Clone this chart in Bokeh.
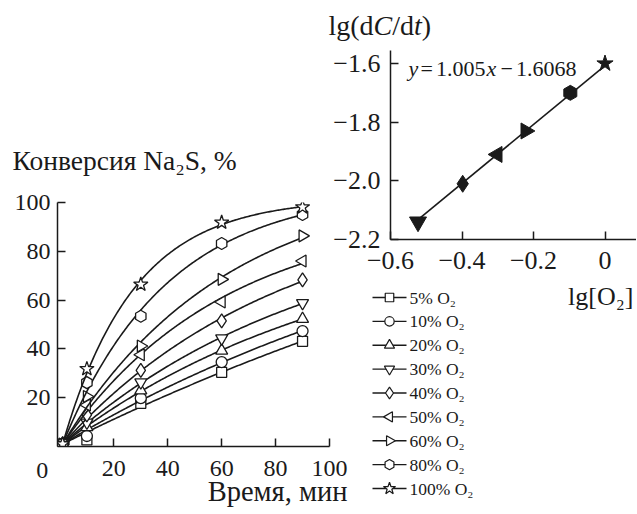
import numpy as np
from bokeh.plotting import figure
from bokeh.layouts import column
from bokeh.models import (FixedTicker, Label, CustomJSTickFormatter, Range1d, GridBox)
from bokeh.embed import file_html
from bokeh.resources import INLINE

FONT = "Liberation Serif"
INK = "#1a1a1a"

# ---------------- main chart data ----------------
time_min = [1, 10, 30, 60, 90]
series_labels = ["5% O₂", "10% O₂", "20% O₂", "30% O₂", "40% O₂",
                 "50% O₂", "60% O₂", "80% O₂", "100% O₂"]
conv_5 = [1, 2.7, 17.7, 30.4, 43.1]
conv_10 = [1, 4.3, 19.8, 34.6, 47.3]
conv_20 = [1, 7.9, 23.0, 39.3, 52.3]
conv_30 = [1, 9.8, 26.3, 44.3, 58.8]
conv_40 = [1, 13.0, 31.2, 51.5, 68.3]
conv_50 = [1, 17.0, 37.6, 59.2, 76.0]
conv_60 = [1, 20.5, 41.2, 68.5, 86.3]
conv_80 = [1, 26.2, 53.4, 83.2, 95.1]
conv_100 = [1, 31.8, 66.4, 91.8, 98.1]
main_x_ticks = [20, 40, 60, 80, 100]
main_y_ticks = [20, 40, 60, 80, 100]

# ---------------- inset data ----------------
lg_o2 = [-0.523, -0.398, -0.301, -0.222, -0.097, 0.0]
lg_rate = [-2.14, -2.01, -1.91, -1.83, -1.70, -1.60]
fit_slope = 1.005
fit_intercept = -1.6068
inset_x_ticks = [-0.6, -0.4, -0.2, 0.0]
inset_y_ticks = [-2.2, -2.0, -1.8, -1.6]

all_series = [conv_5, conv_10, conv_20, conv_30, conv_40, conv_50, conv_60, conv_80, conv_100]
markers = [("square", 0, 10), ("circle", 0, 11), ("triangle", 0, 12), ("inverted_triangle", 0, 12),
           ("diamond", 0, 14), ("triangle", np.pi / 2, 12), ("triangle", -np.pi / 2, 12),
           ("hex", np.pi / 2, 12), ("star", 0, 15)]
inset_markers = [("inverted_triangle", 0, 17), ("diamond", 0, 17), ("triangle", np.pi / 2, 16),
                 ("triangle", -np.pi / 2, 16), ("hex", np.pi / 2, 15), ("star", 0, 17)]


def saturation_trend(t, y):
    """least-squares trend y = y0 + A(1-exp(-k(t-t0))) for the drawn curve"""
    t = np.asarray(t, float)
    y = np.asarray(y, float)
    tt, yy = t - t[0], y - y[0]
    best = None
    for k in np.linspace(0.001, 0.2, 4000):
        f = 1 - np.exp(-k * tt)
        a = f @ yy / (f @ f)
        err = np.sum((a * f - yy) ** 2)
        if best is None or err < best[0]:
            best = (err, a, k)
    grid = np.linspace(t[0], t[-1], 200)
    return grid, y[0] + best[1] * (1 - np.exp(-best[2] * (grid - t[0])))


def style_axes(fig, size):
    for ax in list(fig.xaxis) + list(fig.yaxis):
        ax.major_tick_in = 8
        ax.major_tick_out = 0
        ax.minor_tick_line_color = None
        ax.axis_line_width = 1.5
        ax.axis_line_color = INK
        ax.major_tick_line_width = 1.5
        ax.major_tick_line_color = INK
        ax.major_label_text_font = FONT
        ax.major_label_text_font_size = size
        ax.major_label_text_color = INK
    fig.xgrid.grid_line_color = None
    fig.ygrid.grid_line_color = None


common = dict(output_backend="svg", toolbar_location=None, sizing_mode="fixed",
              background_fill_color=None, border_fill_color=None, outline_line_color=None)

# ---------------- main figure ----------------
p = figure(width=482, height=374, x_range=Range1d(-0.9, 100), y_range=Range1d(0, 100),
           min_border_left=49, min_border_right=161, min_border_top=72, min_border_bottom=58,
           **common)
style_axes(p, "24px")
p.xaxis.ticker = FixedTicker(ticks=main_x_ticks)
p.yaxis.ticker = FixedTicker(ticks=main_y_ticks)
p.xaxis.major_label_standoff = 14
p.yaxis.major_label_standoff = 7

for ys, (mk, ang, sz) in zip(all_series, markers):
    gx, gy = saturation_trend(time_min, ys)
    p.line(gx, gy, line_color=INK, line_width=1.6)
    p.scatter(time_min, ys, marker=mk, angle=ang, size=sz, fill_color="white",
              line_color=INK, line_width=1.3)

# ---------------- inset figure ----------------
y_top = -2.2 + 189 / 293.3
x_end = -0.6 + 246 / 357.5
q = figure(width=336, height=307, x_range=Range1d(-0.6, x_end), y_range=Range1d(-2.2, y_top),
           min_border_left=90, min_border_right=0, min_border_top=42, min_border_bottom=76,
           **common)
style_axes(q, "26px")
q.xaxis.ticker = FixedTicker(ticks=inset_x_ticks)
q.yaxis.ticker = FixedTicker(ticks=inset_y_ticks)
fmt_code = "return Math.abs(tick) < 1e-9 ? '0' : tick.toFixed(1).replace('-', '\u2212');"
q.xaxis.formatter = CustomJSTickFormatter(code=fmt_code)
q.yaxis.formatter = CustomJSTickFormatter(code=fmt_code)
q.xaxis.major_label_standoff = 12
q.yaxis.major_label_standoff = 10

fx = [lg_o2[0], lg_o2[-1]]
q.line(fx, [fit_slope * v + fit_intercept for v in fx], line_color=INK, line_width=1.6)
for xv, yv, (mk, ang, sz) in zip(lg_o2, lg_rate, inset_markers):
    q.scatter([xv], [yv], marker=mk, angle=ang, size=sz, fill_color=INK, line_color=INK)

# ---------------- transparent overlay for free texts and the legend ----------------
# overlay coordinates: x = page pixel, y = 512 - page pixel
PAGE_H = 512
ov = figure(width=628, height=504, x_range=Range1d(8, 636), y_range=Range1d(0, 504),
            x_axis_type=None, y_axis_type=None,
            min_border_left=0, min_border_right=0, min_border_top=0, min_border_bottom=0,
            **common)


def txt(x, y, text, size, align="left", style="normal"):
    ov.add_layout(Label(x=x, y=PAGE_H - y, text=text, text_align=align, text_baseline="middle",
                        text_font=FONT, text_font_size=f"{size}px", text_font_style=style,
                        text_color=INK))


txt(12, 160, "Конверсия Na₂S, %", 27.5)
txt(347, 491, "Время, мин", 28.5, align="right")
txt(41.7, 470, "0", 24, align="center")

ttl = 28
for t, style, em in [("lg(d", "normal", 0.0), ("C", "italic", 1.611), ("/d", "normal", 2.278),
                     ("t", "italic", 3.056), (")", "normal", 3.334)]:
    txt(328 + em * ttl, 25, t, ttl, style=style)

for t, style, x in [("y", "italic", 408), ("=", "normal", 420), ("1.005", "normal", 435.5),
                    ("x", "italic", 486), ("−", "normal", 500), ("1.6068", "normal", 515.5)]:
    txt(x, 68.3, t, 22, style=style)

txt(633, 296, "lg[O₂]", 26, align="right")

# legend keys: line + marker + label per series
key_x0, key_x1, key_mx, key_tx = 372, 406, 389, 409
key_top, key_step = 297, 23.875
key_y = [PAGE_H - (key_top + i * key_step) for i in range(len(series_labels))]
ov.segment(x0=key_x0, x1=key_x1, y0=key_y, y1=key_y, line_color=INK, line_width=1.4)
for i, (lab, (mk, ang, sz)) in enumerate(zip(series_labels, markers)):
    ov.scatter([key_mx], [key_y[i]], marker=mk, angle=ang, size=sz * 0.85, fill_color="white",
               line_color=INK, line_width=1.2)
    ov.add_layout(Label(x=key_tx, y=key_y[i], text=lab, text_align="left", text_baseline="middle",
                        text_font=FONT, text_font_size="17.5px", text_color=INK))

layout = GridBox(children=[(p, 2, 1, 2, 2), (q, 1, 2, 2, 2), (column(ov), 1, 1, 4, 3)],
                 rows=["8px", "122px", "185px", "189px", "8px"],
                 cols=["8px", "292px", "190px", "146px"], spacing=0)
open("out.html", "w").write(file_html(layout, INLINE))
